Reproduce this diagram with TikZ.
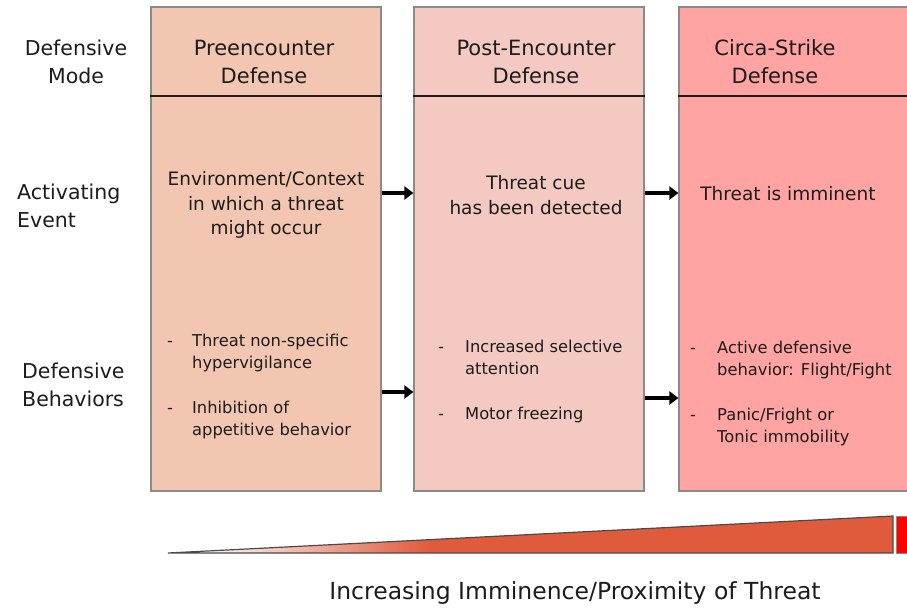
\documentclass[tikz,border=0pt]{standalone}
\usepackage{fontspec}
\setmainfont{DejaVu Sans}
\usetikzlibrary{arrows.meta,positioning,calc}
\definecolor{peach}{HTML}{F3C6B1}
\definecolor{blush}{HTML}{F3C9C2}
\definecolor{coral}{HTML}{FFA3A3}
\definecolor{frame}{HTML}{8A8A8A}
\definecolor{ink}{HTML}{1C1C1C}
\definecolor{ember}{HTML}{E05B3B}
\definecolor{rim}{HTML}{4A4A4A}
\pgfdeclarehorizontalshading{emberfade}{100bp}{color(0bp)=(white); color(27bp)=(white); color(43bp)=(ember); color(100bp)=(ember)}

\begin{document}
\begin{tikzpicture}[x=1pt, y=-1pt,
    column/.style={rectangle, draw=frame, line width=1.2pt, minimum width=230pt,
                   minimum height=484pt, inner sep=0pt},
    rowlabel/.style={font=\fontsize{20.5}{27.5}\selectfont, text=ink, align=left, inner sep=0pt},
    header/.style={font=\fontsize{21}{28}\selectfont, text=ink, align=center, inner sep=0pt},
    event/.style={font=\fontsize{18.5}{24.5}\selectfont, text=ink, align=center, inner sep=0pt},
    bullets/.style={font=\fontsize{16.3}{22}\selectfont, text=ink, anchor=base west, inner sep=0pt},
    divider/.style={draw=ink, line width=1.8pt},
    arr/.style={-{Triangle[length=9pt, width=13pt]}, line width=3.5pt, black}
  ]
  \clip (0,0) rectangle (907,611);
  \node[column, fill=peach] (col1) at (266,249) {};
  \node[column, fill=blush] (col2) at (529,249) {};
  \node[column, fill=coral] (col3) at (794,249) {};
  \coordinate (hdr) at (0,96);
  \draw[divider] (col1.west |- hdr) -- (col1.east |- hdr);
  \draw[divider] (col2.west |- hdr) -- (col2.east |- hdr);
  \draw[divider] (col3.west |- hdr) -- (col3.east |- hdr);

  \node[rowlabel, align=center] (mode) at (76,62) {Defensive\\Mode};
  \node[rowlabel, anchor=west] (event) at (17,206) {Activating\\Event};
  \node[rowlabel, anchor=west] (behav) at (22,385) {Defensive\\Behaviors};

  \node[header] (pre)    at (264,62) {Preencounter\\Defense};
  \node[header] (post)   at (536,62) {Post-Encounter\\Defense};
  \node[header] (strike) at (775,62) {Circa-Strike\\Defense};

  \node[event] (ctx)  at (266,205) {Environment/Context\\in which a threat\\might occur};
  \node[event] (cue)  at (536,195) {Threat cue\\has been detected};
  \node[event] (imm)  at (788,194) {Threat is imminent};

  \node[bullets] (prebeh) at (167,346) {\begin{tabular}[t]{@{}p{25pt}@{}l@{}}
      - & Threat non-specific\\ & hypervigilance\\[23pt]
      - & Inhibition of\\ & appetitive behavior\end{tabular}};
  \node[bullets] (postbeh) at (438,352) {\begin{tabular}[t]{@{}p{27pt}@{}l@{}}
      - & Increased selective\\ & attention\\[23pt]
      - & Motor freezing\end{tabular}};
  \node[bullets] (strikebeh) at (690,353) {\begin{tabular}[t]{@{}p{27pt}@{}l@{}}
      - & Active defensive\\ & behavior: Flight/Fight\\[23pt]
      - & Panic/Fright or\\ & Tonic immobility\end{tabular}};

  \coordinate (evt) at (0,193);
  \coordinate (beh1) at (0,392);
  \coordinate (beh2) at (0,398);
  \draw[arr] (col1.east |- evt) -- (col2.west |- evt);
  \draw[arr] (col2.east |- evt) -- (col3.west |- evt);
  \draw[arr] (col1.east |- beh1) -- (col2.west |- beh1);
  \draw[arr] (col2.east |- beh2) -- (col3.west |- beh2);

  \shadedraw[shading=emberfade, draw=rim, line width=1.2pt] (168,553) -- (893,516) -- (893,553) -- cycle;
  \draw[draw=frame, fill=red, line width=1pt] (896,516) rectangle (915,553);
  \node[font=\fontsize{23.5}{28}\selectfont, text=ink, inner sep=0pt] (scale) at (575,593)
    {Increasing Imminence/Proximity of Threat};
\end{tikzpicture}
\end{document}
